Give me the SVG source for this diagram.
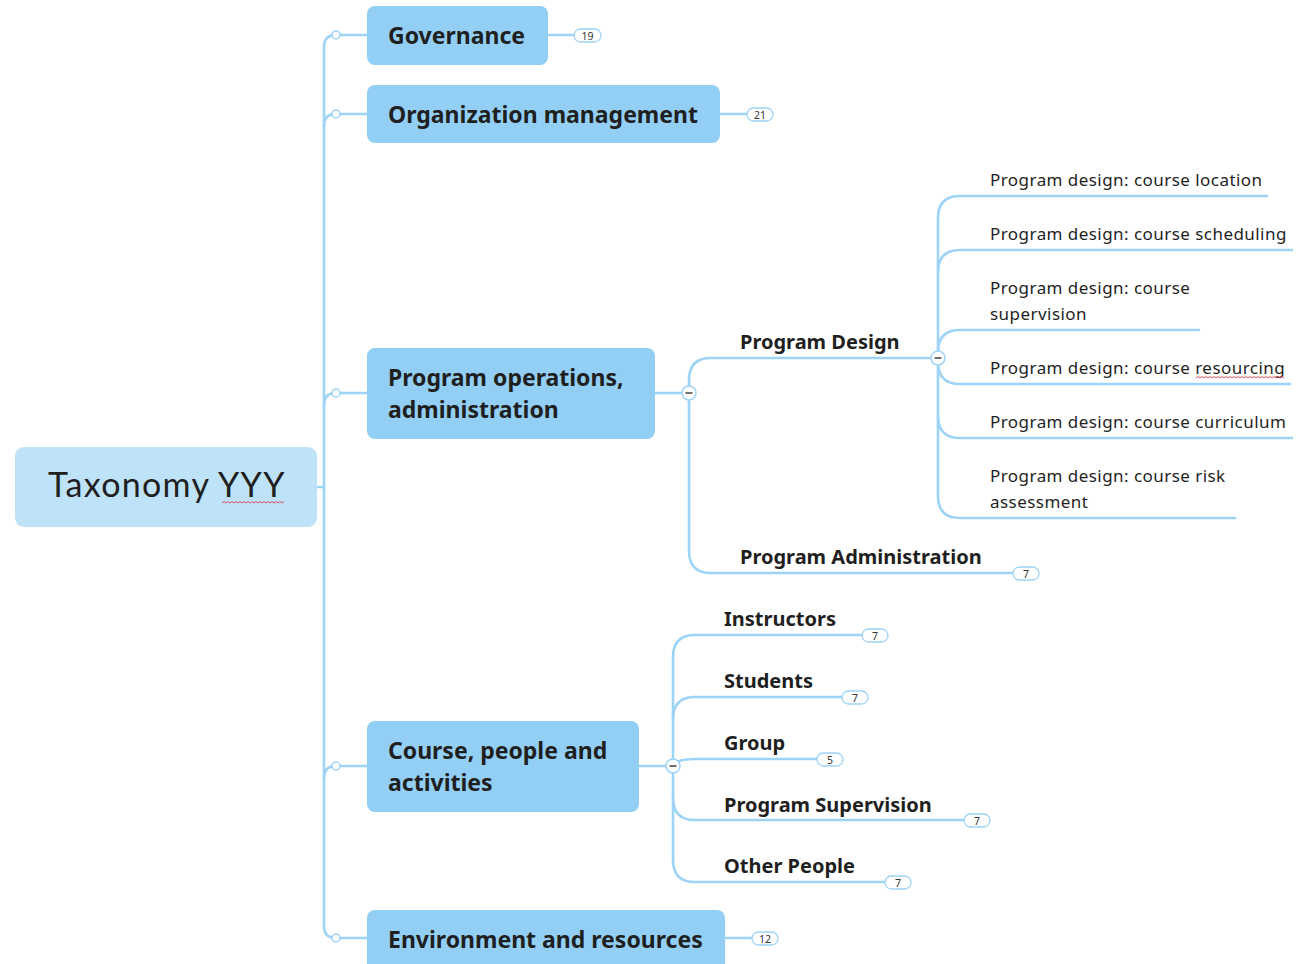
<svg xmlns="http://www.w3.org/2000/svg" width="1314" height="964" viewBox="0 0 1314 964">
  <style>
    .ln { fill: none; stroke: #9dd3f6; stroke-width: 2.6; stroke-linecap: round; }
    .box { fill: #93cff5; }
    .root { fill: #bee3f8; }
    .t1 { font-family: "Noto Sans", "Open Sans", sans-serif; font-weight: bold; font-size: 23px; fill: #1f1f1f; }
    .t2 { font-family: "Noto Sans", "Open Sans", sans-serif; font-weight: bold; font-size: 20px; fill: #1f1f1f; }
    .t3 { font-family: "Noto Sans", "Open Sans", sans-serif; font-size: 17px; letter-spacing: 0.45px; fill: #1f1f1f; }
    .rt { font-family: Lato, "Noto Sans", sans-serif; font-size: 34px; fill: #1f1f1f; letter-spacing: 1.3px; }
    .badge rect { fill: #ffffff; stroke: #9dd3f6; stroke-width: 1.3; }
    .badge text { font-family: "Noto Sans", "Liberation Sans", sans-serif; font-size: 10.5px; fill: #333; text-anchor: middle; }
    .dot { fill: #ffffff; stroke: #9dd3f6; stroke-width: 1.5; }
    .col { fill: #ffffff; stroke: #9dd3f6; stroke-width: 1.5; }
    .minus { stroke: #333; stroke-width: 1.4; }
    .spell { fill: none; stroke: #e04050; stroke-width: 0.9; }
  </style>
  <defs>
    <g id="collapse">
      <circle class="col" r="7"/>
      <line class="minus" x1="-3.5" y1="0" x2="3.5" y2="0"/>
    </g>
  </defs>
  <rect width="1314" height="964" fill="#ffffff"/>

  <g id="connectors">
    <!-- root to trunk -->
    <path class="ln" d="M317 487 H324"/>
    <!-- main trunk with rounded ends -->
    <path class="ln" d="M336 35 Q324 35 324 47 V926 Q324 938 336 938"/>
    <path class="ln" d="M336 114 Q324 114 324 126"/>
    <path class="ln" d="M336 393 Q324 393 324 405"/>
    <path class="ln" d="M336 766 Q324 766 324 778"/>
    <!-- trunk to main boxes -->
    <path class="ln" d="M336 35 H367"/>
    <path class="ln" d="M336 114 H367"/>
    <path class="ln" d="M336 393 H367"/>
    <path class="ln" d="M336 766 H367"/>
    <path class="ln" d="M336 938 H367"/>
    <!-- box to badges -->
    <path class="ln" d="M548 35 H574"/>
    <path class="ln" d="M720 114 H747"/>
    <path class="ln" d="M725 938 H752"/>

    <!-- program operations branch -->
    <path class="ln" d="M655 393 H689"/>
    <path class="ln" d="M689 393 V380 Q689 358 711 358 H938"/>
    <path class="ln" d="M689 393 V551 Q689 573 711 573 H1013"/>

    <!-- program design children -->
    <path class="ln" d="M938 358 V218 Q938 196 960 196 H1267"/>
    <path class="ln" d="M938 272 Q938 250 960 250 H1292"/>
    <path class="ln" d="M938 352 Q938 330 960 330 H1199"/>
    <path class="ln" d="M938 362 Q938 384 960 384 H1290"/>
    <path class="ln" d="M938 358 V416 Q938 438 960 438 H1292"/>
    <path class="ln" d="M938 416 V496 Q938 518 960 518 H1235"/>

    <!-- course, people and activities branch -->
    <path class="ln" d="M639 766 H673"/>
    <path class="ln" d="M673 766 V657 Q673 635 695 635 H862"/>
    <path class="ln" d="M673 719 Q673 697 695 697 H842"/>
    <path class="ln" d="M673 766 Q676 759 695 759 H817"/>
    <path class="ln" d="M673 766 V798 Q673 820 695 820 H964"/>
    <path class="ln" d="M673 798 V860 Q673 882 695 882 H885"/>

    <!-- junction dots -->
    <circle class="dot" cx="336" cy="35" r="4"/>
    <circle class="dot" cx="336" cy="114" r="4"/>
    <circle class="dot" cx="336" cy="393" r="4"/>
    <circle class="dot" cx="336" cy="766" r="4"/>
    <circle class="dot" cx="336" cy="938" r="4"/>
    <use href="#collapse" x="689" y="393"/>
    <use href="#collapse" x="938" y="358"/>
    <use href="#collapse" x="673" y="766"/>
  </g>

  <g id="root">
    <rect class="root" x="15" y="447" width="302" height="80" rx="9"/>
    <text class="rt" x="48" y="497">Taxonomy YYY</text>
    <path class="spell" d="M222 503 l2 -1.5 l2 1.5 l2 -1.5 l2 1.5 l2 -1.5 l2 1.5 l2 -1.5 l2 1.5 l2 -1.5 l2 1.5 l2 -1.5 l2 1.5 l2 -1.5 l2 1.5 l2 -1.5 l2 1.5 l2 -1.5 l2 1.5 l2 -1.5 l2 1.5 l2 -1.5 l2 1.5 l2 -1.5 l2 1.5 l2 -1.5 l2 1.5 l2 -1.5 l2 1.5 l2 -1.5 l2 1.5 l2 -1.5"/>
  </g>

  <g id="governance">
    <rect class="box" x="367" y="6" width="181" height="59" rx="8"/>
    <text class="t1" x="388" y="44">Governance</text>
    <g class="badge"><rect x="574" y="29" width="27" height="13" rx="6.5"/><text x="587.5" y="39.5">19</text></g>
  </g>

  <g id="organization-management">
    <rect class="box" x="367" y="85" width="353" height="58" rx="8"/>
    <text class="t1" x="388" y="123">Organization management</text>
    <g class="badge"><rect x="747" y="108" width="26" height="13" rx="6.5"/><text x="760" y="118.5">21</text></g>
  </g>

  <g id="program-operations">
    <rect class="box" x="367" y="348" width="288" height="91" rx="8"/>
    <text class="t1" x="388" y="386">Program operations,</text>
    <text class="t1" x="388" y="418">administration</text>
  </g>

  <g id="program-design">
    <text class="t2" x="740" y="349">Program Design</text>
  </g>

  <g id="pd-location"><text class="t3" x="990" y="186">Program design: course location</text></g>
  <g id="pd-scheduling"><text class="t3" x="990" y="240">Program design: course scheduling</text></g>
  <g id="pd-supervision">
    <text class="t3" x="990" y="294">Program design: course</text>
    <text class="t3" x="990" y="320">supervision</text>
  </g>
  <g id="pd-resourcing">
    <text class="t3" x="990" y="374">Program design: course resourcing</text>
    <path class="spell" d="M1196 378 l2 -1.5 l2 1.5 l2 -1.5 l2 1.5 l2 -1.5 l2 1.5 l2 -1.5 l2 1.5 l2 -1.5 l2 1.5 l2 -1.5 l2 1.5 l2 -1.5 l2 1.5 l2 -1.5 l2 1.5 l2 -1.5 l2 1.5 l2 -1.5 l2 1.5 l2 -1.5 l2 1.5 l2 -1.5 l2 1.5 l2 -1.5 l2 1.5 l2 -1.5 l2 1.5 l2 -1.5 l2 1.5 l2 -1.5 l2 1.5 l2 -1.5 l2 1.5 l2 -1.5 l2 1.5 l2 -1.5 l2 1.5 l2 -1.5 l2 1.5 l2 -1.5 l2 1.5 l2 -1.5 l2 1.5"/>
  </g>
  <g id="pd-curriculum"><text class="t3" x="990" y="428">Program design: course curriculum</text></g>
  <g id="pd-risk">
    <text class="t3" x="990" y="482">Program design: course risk</text>
    <text class="t3" x="990" y="508">assessment</text>
  </g>

  <g id="program-administration">
    <text class="t2" x="740" y="564">Program Administration</text>
    <g class="badge"><rect x="1013" y="567" width="26" height="13" rx="6.5"/><text x="1026" y="577.5">7</text></g>
  </g>

  <g id="course-people-activities">
    <rect class="box" x="367" y="721" width="272" height="91" rx="8"/>
    <text class="t1" x="388" y="759">Course, people and</text>
    <text class="t1" x="388" y="791">activities</text>
  </g>

  <g id="instructors">
    <text class="t2" x="724" y="626">Instructors</text>
    <g class="badge"><rect x="862" y="629" width="26" height="13" rx="6.5"/><text x="875" y="639.5">7</text></g>
  </g>
  <g id="students">
    <text class="t2" x="724" y="688">Students</text>
    <g class="badge"><rect x="842" y="691" width="26" height="13" rx="6.5"/><text x="855" y="701.5">7</text></g>
  </g>
  <g id="group">
    <text class="t2" x="724" y="750">Group</text>
    <g class="badge"><rect x="817" y="753" width="26" height="13" rx="6.5"/><text x="830" y="763.5">5</text></g>
  </g>
  <g id="program-supervision">
    <text class="t2" x="724" y="812">Program Supervision</text>
    <g class="badge"><rect x="964" y="814" width="26" height="13" rx="6.5"/><text x="977" y="824.5">7</text></g>
  </g>
  <g id="other-people">
    <text class="t2" x="724" y="873">Other People</text>
    <g class="badge"><rect x="885" y="876" width="26" height="13" rx="6.5"/><text x="898" y="886.5">7</text></g>
  </g>

  <g id="environment-resources">
    <rect class="box" x="367" y="910" width="358" height="64" rx="8"/>
    <text class="t1" x="388" y="948">Environment and resources</text>
    <g class="badge"><rect x="752" y="932" width="26" height="13" rx="6.5"/><text x="765" y="942.5">12</text></g>
  </g>
</svg>
